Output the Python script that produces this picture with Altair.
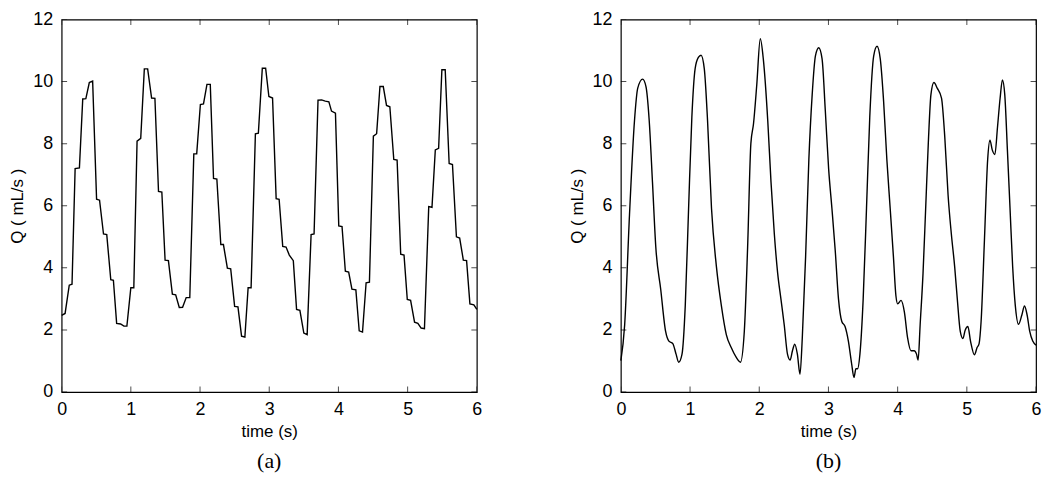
import altair as alt
import pandas as pd

# ---- panel (a): sampled / stepwise flow ----
t_a = [0, 0.05, 0.11, 0.15, 0.195, 0.257, 0.305, 0.35, 0.40, 0.448, 0.505, 0.548, 0.605, 0.652,
       0.71, 0.748, 0.795, 0.852, 0.90, 0.943, 1.0, 1.043, 1.09, 1.143, 1.195, 1.243, 1.30, 1.348,
       1.40, 1.448, 1.495, 1.543, 1.60, 1.648, 1.70, 1.748, 1.80, 1.852, 1.91, 1.952, 2.005, 2.05,
       2.10, 2.148, 2.195, 2.243, 2.30, 2.338, 2.395, 2.443, 2.50, 2.548, 2.60, 2.648, 2.695, 2.738,
       2.80, 2.843, 2.90, 2.948, 2.995, 3.048, 3.10, 3.143, 3.195, 3.243, 3.29, 3.348, 3.395, 3.443,
       3.50, 3.548, 3.605, 3.648, 3.705, 3.757, 3.81, 3.862, 3.90, 3.957, 4.005, 4.052, 4.10, 4.148,
       4.195, 4.252, 4.30, 4.348, 4.40, 4.448, 4.505, 4.552, 4.60, 4.648, 4.695, 4.743, 4.80, 4.848,
       4.90, 4.948, 4.995, 5.043, 5.10, 5.148, 5.195, 5.243, 5.305, 5.352, 5.40, 5.448, 5.495, 5.543,
       5.60, 5.648, 5.705, 5.752, 5.805, 5.852, 5.90, 5.957, 6.0]
q_a = [2.47, 2.53, 3.44, 3.47, 7.2, 7.22, 9.44, 9.45, 9.97, 10.02, 6.21, 6.18, 5.09, 5.07,
       3.62, 3.6, 2.21, 2.19, 2.12, 2.12, 3.36, 3.36, 8.08, 8.17, 10.41, 10.41, 9.47, 9.46,
       6.46, 6.44, 4.25, 4.23, 3.15, 3.13, 2.72, 2.73, 3.04, 3.04, 7.67, 7.67, 9.26, 9.28,
       9.91, 9.91, 6.88, 6.86, 4.75, 4.75, 3.99, 3.97, 2.76, 2.74, 1.80, 1.77, 3.36, 3.36,
       8.32, 8.34, 10.43, 10.43, 9.52, 9.47, 6.23, 6.21, 4.69, 4.67, 4.41, 4.23, 2.66, 2.63,
       1.90, 1.85, 5.07, 5.09, 9.40, 9.41, 9.37, 9.35, 9.05, 8.98, 5.35, 5.33, 3.89, 3.86,
       3.31, 3.29, 1.97, 1.93, 3.52, 3.54, 8.24, 8.32, 9.84, 9.84, 9.23, 9.19, 7.49, 7.47,
       4.44, 4.41, 2.98, 2.95, 2.25, 2.21, 2.06, 2.04, 5.97, 5.95, 7.80, 7.85, 10.38, 10.38,
       7.36, 7.33, 5.0, 4.96, 4.25, 4.23, 2.84, 2.81, 2.66]

# ---- panel (b): smooth flow ----
t_b = [0, 0.055, 0.125, 0.197, 0.244, 0.315, 0.363, 0.41, 0.457, 0.505, 0.576, 0.647, 0.694,
       0.751, 0.798, 0.836, 0.884, 0.931, 0.979, 1.026, 1.073, 1.12, 1.159, 1.206, 1.253, 1.31,
       1.381, 1.452, 1.524, 1.595, 1.666, 1.728, 1.784, 1.832, 1.879, 1.917, 1.964, 2.015, 2.06,
       2.123, 2.17, 2.218, 2.266, 2.313, 2.361, 2.408, 2.446, 2.48, 2.513, 2.551, 2.589, 2.622,
       2.67, 2.717, 2.765, 2.812, 2.86, 2.908, 2.955, 3.003, 3.05, 3.098, 3.145, 3.193, 3.24,
       3.288, 3.335, 3.369, 3.397, 3.421, 3.455, 3.502, 3.55, 3.597, 3.654, 3.702, 3.749, 3.797,
       3.844, 3.892, 3.939, 3.975, 4.001, 4.049, 4.097, 4.144, 4.192, 4.239, 4.273, 4.296, 4.325,
       4.367, 4.405, 4.443, 4.481, 4.524, 4.572, 4.634, 4.681, 4.729, 4.776, 4.824, 4.862, 4.905,
       4.943, 4.977, 5.015, 5.053, 5.11, 5.148, 5.177, 5.206, 5.254, 5.301, 5.334, 5.367, 5.405,
       5.443, 5.481, 5.514, 5.548, 5.586, 5.624, 5.662, 5.7, 5.747, 5.795, 5.833, 5.871, 5.909,
       5.952, 6.0]
q_b = [1.01, 2.16, 5.71, 8.74, 9.79, 10.08, 9.84, 8.74, 6.76, 4.67, 3.31, 1.95, 1.64,
       1.56, 1.22, 0.96, 1.22, 2.79, 5.92, 8.85, 10.41, 10.78, 10.85, 10.41, 8.74, 5.92,
       4.04, 2.79, 1.85, 1.43, 1.12, 0.96, 1.95, 4.67, 8.01, 8.64, 9.89, 11.38, 10.7,
       8.74, 6.76, 5.09, 3.83, 3.0, 2.16, 1.22, 1.03, 1.33, 1.54, 1.22, 0.57, 1.74,
       4.36, 7.49, 9.58, 10.83, 11.09, 10.73, 9.05, 7.18, 5.92, 4.56, 3.0, 2.27, 2.11,
       1.64, 0.91, 0.47, 0.75, 0.75, 1.22, 3.0, 5.92, 8.85, 10.83, 11.14, 10.73, 9.37,
       7.49, 5.92, 4.36, 3.1, 2.84, 2.95, 2.58, 1.74, 1.33, 1.33, 1.22, 1.03, 2.16,
       3.83, 5.92, 8.01, 9.58, 9.97, 9.79, 9.47, 8.22, 6.34, 5.09, 4.04, 3.0, 1.95,
       1.72, 2.0, 2.11, 1.64, 1.2, 1.43, 1.56, 2.27, 4.88, 7.49, 8.11, 7.8, 7.65,
       8.53, 9.47, 10.05, 9.58, 7.8, 5.92, 4.04, 2.79, 2.18, 2.48, 2.77, 2.48, 1.95,
       1.64, 1.51]

x_ticks = [0, 1, 2, 3, 4, 5, 6]
y_ticks = [0, 2, 4, 6, 8, 10, 12]
x_title = "time (s)"
y_title = "Q ( mL/s )"
captions = ["(a)", "(b)"]

W, H = 418, 375


def panel(t, q, caption, interp):
    df = pd.DataFrame({"t": t, "Q": q})
    xs = alt.Scale(domain=[0, 6], nice=False, zero=False)
    ys = alt.Scale(domain=[0, 12], nice=False, zero=False)
    x_enc = alt.X("t:Q", scale=xs, axis=alt.Axis(title=x_title, values=x_ticks, format="d",
                                                 labelFlush=False))
    y_enc = alt.Y("Q:Q", scale=ys, axis=alt.Axis(title=y_title, values=y_ticks, format="d",
                                                 labelFlush=False))
    line = alt.Chart(df).mark_line(color="black", strokeWidth=1.4, interpolate=interp).encode(
        x=x_enc, y=y_enc)
    # inward ticks on all four sides (clipped half-ticks)
    xt = pd.DataFrame({"t": x_ticks * 2, "Q": [0] * len(x_ticks) + [12] * len(x_ticks)})
    yt = pd.DataFrame({"t": [0] * len(y_ticks) + [6] * len(y_ticks), "Q": y_ticks * 2})
    xtick = alt.Chart(xt).mark_tick(orient="vertical", size=11, thickness=1, color="black",
                                    clip=True).encode(x=x_enc, y=y_enc)
    ytick = alt.Chart(yt).mark_tick(orient="horizontal", size=11, thickness=1, color="black",
                                    clip=True).encode(x=x_enc, y=y_enc)
    return alt.layer(line, xtick, ytick).properties(
        width=W, height=H,
        title=alt.Title(text=caption, orient="bottom", anchor="middle",
                        font="Liberation Serif", fontSize=22, fontWeight="normal",
                        color="black", offset=12),
    )


chart = alt.hconcat(
    panel(t_a, q_a, captions[0], "linear"),
    panel(t_b, q_b, captions[1], "monotone"),
    spacing=85,
).properties(
    padding={"left": 0, "top": 0, "right": 0, "bottom": 0}
).configure_view(
    stroke="black", strokeWidth=1.2
).configure_axis(
    domain=False, ticks=False, grid=False,
    labelFont="Liberation Sans", labelFontSize=18, labelColor="black",
    titleFont="Liberation Sans", titleFontSize=17, titleFontWeight="normal", titleColor="black",
).configure_axisX(
    labelPadding=9, titlePadding=5
).configure_axisY(
    labelPadding=9, titlePadding=6
)

chart.save("out.html", embed_options={"renderer": "svg", "actions": False})
